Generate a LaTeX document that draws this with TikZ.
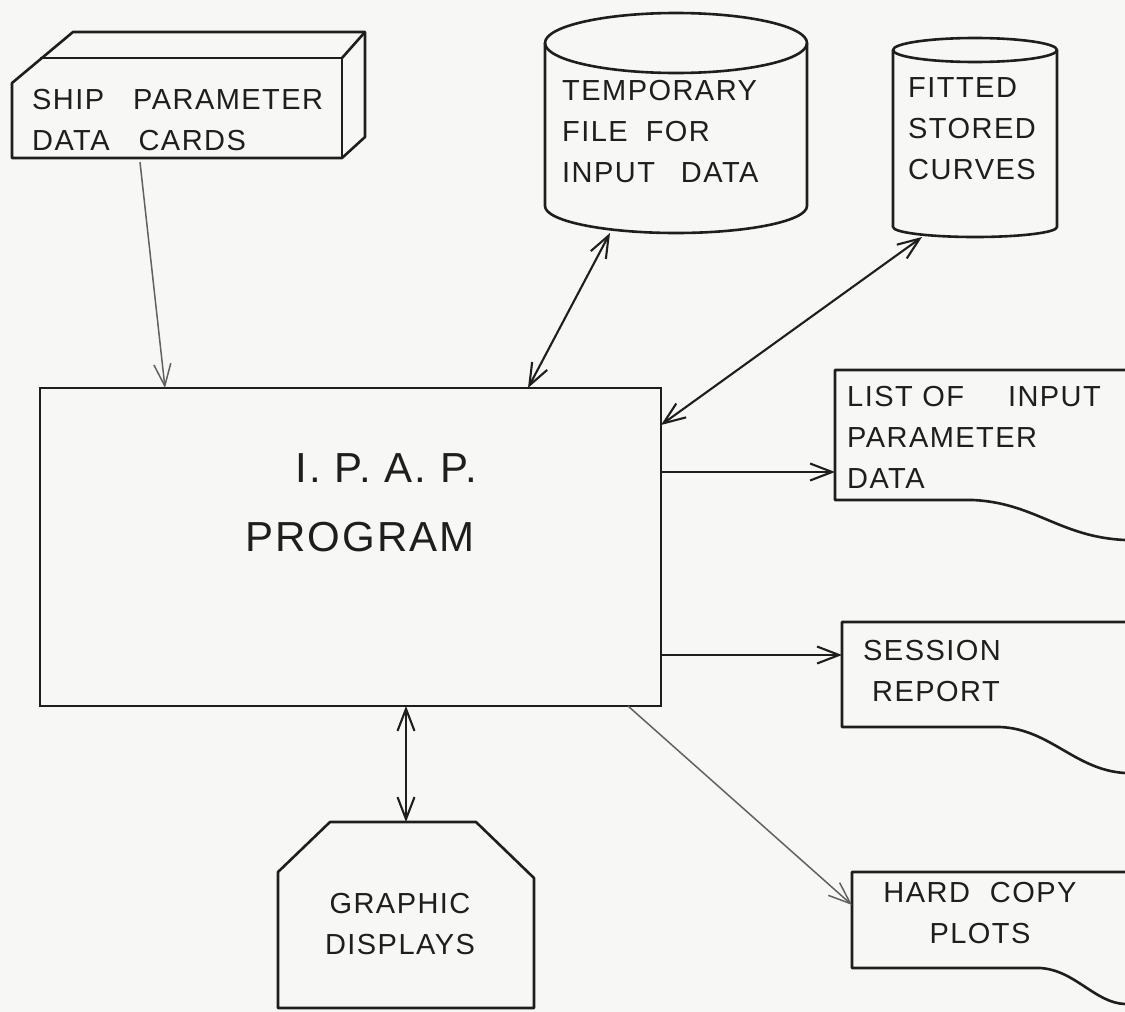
\documentclass[tikz,border=0pt]{standalone}
\usepackage{fontspec}
\newfontfamily\hand[LetterSpace=5]{Liberation Sans}
\usetikzlibrary{arrows.meta}
\definecolor{paper}{RGB}{247,247,245}
\definecolor{pen}{RGB}{30,30,30}
\begin{document}
\begin{tikzpicture}[x=1pt,y=-1pt]
\tikzstyle{frame} = [inner sep=0pt, outer sep=0pt]
\tikzstyle{box} = [draw=pen, line width=2.8pt, inner sep=0pt, outer sep=0pt]
\tikzstyle{edge} = [draw=pen, line width=2.6pt, line join=round]
\tikzstyle{lbl} = [font=\hand\fontsize{29}{41}\selectfont, text=pen, inner sep=0pt, align=left, anchor=west]
\tikzstyle{big} = [font=\hand\fontsize{42}{50}\selectfont, text=pen, inner sep=0pt]
\tikzstyle{link} = [draw=pen, line width=2.1pt, -{Straight Barb[length=22pt,width=17pt]}]
\tikzstyle{both} = [link, {Straight Barb[length=22pt,width=17pt]}-{Straight Barb[length=22pt,width=17pt]}]
\tikzstyle{faint} = [link, draw=pen!70, line width=1.5pt]

\useasboundingbox (0,0) rectangle (1125,1012);
\fill[paper] (0,0) rectangle (1125,1012);

\node[box, minimum width=621, minimum height=318] (prog) at (350.5,547) {};
\node[big] (ipap) at (386,468) {I. P. A. P.};
\node[big] (progname) at (360,537) {PROGRAM};

\draw[edge] (12,158) -- (12,83) -- (73,32) -- (365,32) -- (365,137) -- (342,158) -- cycle;
\draw[edge] (40,58) -- (342,58) -- (342,158);
\draw[edge] (342,58) -- (365,32);
\node[frame, minimum width=330, minimum height=100] (cards) at (177,108) {};
\node[lbl] (cardtxt) at (32,120) {SHIP\quad PARAMETER\\DATA\quad CARDS};

\draw[edge] (676,43) ellipse [x radius=131, y radius=30];
\draw[edge] (545,43) -- (545,206) arc[start angle=180, end angle=0, x radius=131, y radius=27] -- (807,43);
\node[frame, minimum width=262, minimum height=220] (tmpfile) at (676,123) {};
\node[lbl] (tmptxt) at (562,131.5) {TEMPORARY\\FILE\hspace{18pt}FOR\\INPUT\hspace{26pt}DATA};

\draw[edge] (975,50) ellipse [x radius=82, y radius=12];
\draw[edge] (893,50) -- (893,227) arc[start angle=180, end angle=0, x radius=82, y radius=10] -- (1057,50);
\node[frame, minimum width=164, minimum height=199] (curves) at (975,137.5) {};
\node[lbl] (curvetxt) at (908,128.5) {FITTED\\STORED\\CURVES};

\draw[edge] (1125,370) -- (835,370) -- (835,500) -- (973,500) .. controls (1035,503) and (1060,537) .. (1125,540);
\node[frame, minimum width=290, minimum height=130] (list) at (980,435) {};
\node[lbl] (listtxt) at (847,437.5) {LIST\ OF\hspace{44pt}INPUT\\PARAMETER\\DATA};

\draw[edge] (1125,622) -- (842,622) -- (842,727) -- (1000,727) .. controls (1050,729) and (1075,770) .. (1125,773);
\node[frame, minimum width=283, minimum height=105] (session) at (983.5,674.5) {};
\node[lbl] (sessiontxt) at (863,671) {SESSION\\\hspace{9pt}REPORT};

\draw[edge] (1125,872) -- (852,872) -- (852,968) -- (1040,968) .. controls (1075,970) and (1095,1003) .. (1125,1004);
\node[frame, minimum width=273, minimum height=96] (hardcopy) at (988.5,920) {};
\node[lbl, anchor=center, align=center] (hardtxt) at (980,913) {HARD\hspace{20pt}COPY\\PLOTS};

\draw[edge] (278,1008) -- (278,872) -- (330,822) -- (476,822) -- (534,878) -- (534,1008) -- cycle;
\node[frame, minimum width=256, minimum height=186] (graphic) at (406,915) {};
\node[lbl, anchor=center, align=center] (graphtxt) at (400,924) {GRAPHIC\\DISPLAYS};

\draw[faint] ([xshift=-37,yshift=-4]cards.south) -- ([xshift=-185.5]prog.north);
\draw[both] ([xshift=177.5]prog.north) -- ([xshift=-66]tmpfile.south);
\draw[both] ([yshift=-37]prog.north east) -- ([xshift=-53]curves.south);
\draw[link] ([yshift=75]prog.east) -- ([yshift=-37]list.west);
\draw[link] ([yshift=-108]prog.east) -- ([yshift=19.5]session.west);
\draw[both] (prog.south -| graphic.north) -- (graphic.north);
\draw[faint] ([xshift=-33]prog.south east) -- ([yshift=15]hardcopy.west);
\end{tikzpicture}
\end{document}
